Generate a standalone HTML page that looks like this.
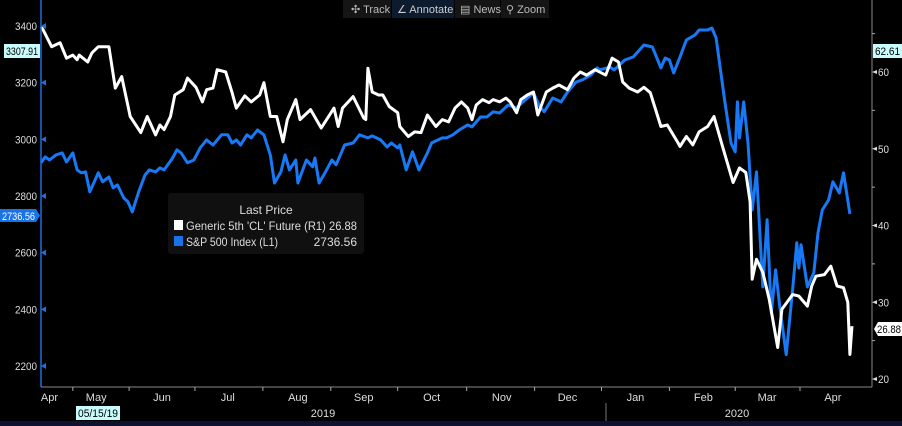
<!DOCTYPE html>
<html><head><meta charset="utf-8"><style>
html,body{margin:0;padding:0;background:#000;width:902px;height:426px;overflow:hidden}
svg{display:block;font-family:"Liberation Sans",sans-serif}
</style></head><body>
<svg id="chart" width="902" height="426" viewBox="0 0 902 426">
<rect x="0" y="0" width="902" height="426" fill="#000"/>
<g id="grid"></g>
<g id="series"></g>
<g id="axes"></g>
</svg>
<script>
// ---- data ----
const oilDays=[0,1,5,9,12,15,17,18,22,24,27,32,35,38,42,47,50,54,56,58,61,63,67,69,73,76,78,81,83,87,90,92,96,99,103,105,108,111,114,116,120,122,127,132,138,140,142,147,152,153,154,156,159,161,164,168,169,173,176,179,182,186,189,192,195,198,201,203,205,208,211,213,216,219,221,224,226,229,232,234,238,241,244,248,251,254,257,261,266,269,272,274,277,281,284,287,292,295,300,301,304,307,310,314,317,321,326,329,332,334,335,337,340,343,347,349,354,357,361,363,365,369,372,375,378,380,381,382];
const oilValues=[65.9,65.5,63.3,63.8,61.8,62.2,61.6,62.2,61.3,62.5,63.3,63.3,57.9,59.4,54.2,52.1,54.2,51.8,53.1,52.5,54.2,57.0,57.7,59.2,58.0,56.1,57.7,57.9,60.3,60.0,57.3,55.3,56.9,56.1,57.0,58.6,54.2,54.2,50.9,53.8,56.4,53.8,55.1,52.7,55.3,52.9,55.3,56.8,54.0,53.8,60.5,57.4,57.0,57.0,55.5,54.7,52.9,51.6,52.2,52.1,54.4,52.9,53.8,53.5,55.3,56.1,55.3,53.8,55.7,56.4,56.0,56.4,56.1,56.6,56.1,54.7,56.4,57.0,57.4,54.4,57.4,57.9,58.3,57.7,59.2,60.0,59.6,60.3,59.6,61.8,61.3,58.7,57.9,57.4,58.0,57.3,52.9,53.1,50.8,50.3,51.6,50.5,52.2,52.9,54.2,50.3,45.6,47.5,46.9,43.1,33.0,35.6,33.9,30.4,24.1,29.1,31.0,30.8,29.5,32.1,33.4,33.6,34.7,32.1,31.9,30.0,23.2,26.88];
const spxDays=[0,2,4,7,10,12,15,17,19,21,23,27,29,32,34,36,39,41,43,46,49,51,54,56,58,62,64,66,69,72,75,78,81,85,88,90,92,94,97,99,102,105,108,110,113,115,117,120,121,125,128,129,131,134,137,139,143,147,150,154,156,160,163,165,168,169,172,175,178,182,184,187,189,191,194,197,201,203,207,210,213,216,220,224,227,232,235,237,241,245,248,252,255,259,262,263,268,270,275,279,284,288,292,294,296,298,301,304,308,310,314,316,318,322,325,327,328,329,331,333,335,337,340,342,344,346,348,351,354,356,357,358,361,364,366,368,371,373,376,378,381];
const spxValues=[2917,2938,2927,2945,2952,2920,2952,2892,2882,2885,2815,2882,2850,2867,2829,2839,2793,2779,2744,2815,2874,2892,2885,2899,2892,2934,2963,2952,2917,2927,2970,2998,2980,3016,3016,2987,2998,2980,3016,3005,3033,3016,2945,2846,2885,2945,2892,2927,2846,2927,2903,2934,2846,2885,2927,2910,2980,2987,3016,3005,3012,2998,2973,2987,2970,2980,2892,2956,2892,2952,2987,2998,3005,3005,3016,3033,3051,3044,3079,3079,3097,3093,3121,3111,3132,3164,3114,3097,3146,3132,3167,3202,3210,3227,3252,3245,3255,3245,3280,3291,3333,3326,3252,3287,3280,3234,3291,3351,3368,3386,3386,3393,3358,3139,2987,2956,3132,3005,3132,2987,2751,2885,2479,2716,2388,2539,2409,2240,2469,2635,2546,2628,2479,2529,2670,2751,2786,2850,2811,2882,2736.56];
const leftTicks=[3400,3200,3000,2800,2600,2400,2200];
const rightTicks=[60,50,40,30,20];
const rightMinor=[65,55,45,35,25];
const monthLabels=["Apr","May","Jun","Jul","Aug","Sep","Oct","Nov","Dec","Jan","Feb","Mar","Apr"];
const monthDays=[4,26,57,88,121,152,184,217,248,280,312,342,373];

// ---- scales ----
const X0=41, X1=852, DMAX=382;
const xs=d=>X0+d*(X1-X0)/DMAX;
const yL=v=>26+(3400-v)*(366-26)/1200;
const yR=v=>72+(60-v)*(379-72)/40;
const NS="http://www.w3.org/2000/svg";
function mk(tag,attrs,parent,text){const e=document.createElementNS(NS,tag);for(const k in attrs)e.setAttribute(k,attrs[k]);if(text!==undefined)e.textContent=text;parent.appendChild(e);return e;}
const S=document.getElementById('series'), A=document.getElementById('axes');

function path(days,vals,sc){return days.map((d,i)=>(i?'L':'M')+xs(d).toFixed(1)+','+sc(vals[i]).toFixed(1)).join('');}
const pSpx=mk('path',{d:path(spxDays,spxValues,yL),fill:'none',stroke:'#1779f5','stroke-width':3,'stroke-linejoin':'round'},S);


const pOil=mk('path',{d:path(oilDays,oilValues,yR),fill:'none',stroke:'#ffffff','stroke-width':3,'stroke-linejoin':'round'},S);



const la=mk('line',{x1:41,y1:0,x2:41,y2:387,stroke:'#1e6fe0','stroke-width':1.5},A);


const ra=mk('line',{x1:872,y1:0,x2:872,y2:387,stroke:'#888','stroke-width':1},A);


const ba=mk('line',{x1:41,y1:387,x2:872,y2:387,stroke:'#888','stroke-width':1},A);



leftTicks.forEach(v=>{const y=yL(v);
 const t=mk('text',{x:37,y:y+4,'text-anchor':'end','font-size':11,fill:'#ddd',textLength:22,lengthAdjust:'spacingAndGlyphs'},A,String(v));
 
 
 const m=mk('path',{d:`M41,${y} l5,-3 v6z`,fill:'#1e6fe0'},A);
 
 
});
rightTicks.forEach(v=>{const y=yR(v);
 const t=mk('text',{x:878,y:y+4,'font-size':11,fill:'#ddd',textLength:11,lengthAdjust:'spacingAndGlyphs'},A,String(v));
 
 
 const m=mk('path',{d:`M872,${y} l5,-2 v4z`,fill:'#ddd'},A);
 
 
});
rightMinor.forEach(v=>{const y=yR(v);
 const m=mk('line',{x1:872,y1:y,x2:875,y2:y,stroke:'#aaa'},A);
 
 
});
monthLabels.forEach((m,i)=>{const x=xs(monthDays[i]);
 const t=mk('text',{x:x,y:401,'text-anchor':'middle','font-size':11,fill:'#ddd'},A,m);
 
 
 if(i<monthLabels.length-1){const tx=(x+xs(monthDays[i+1]))/2;
  const k=mk('line',{x1:tx,y1:387,x2:tx,y2:391,stroke:'#aaa'},A);
  
  }
});
</script>
<svg style="position:absolute;left:0;top:0" width="902" height="426" viewBox="0 0 902 426" font-family="Liberation Sans, sans-serif">
 <g>
  <rect x="343" y="0" width="48" height="18" fill="#151515"/>
  <text x="351" y="13" font-size="11" fill="#bbb">✣ Track</text>
  <rect x="392" y="0" width="62" height="18" fill="#0c1b2e"/>
  <text x="397" y="13" font-size="11" fill="#ccc">∠ Annotate</text>
  <rect x="455" y="0" width="45" height="18" fill="#151515"/>
  <text x="460" y="13" font-size="11" fill="#bbb">▤ News</text>
  <rect x="501" y="0" width="48" height="18" fill="#151515"/>
  <text x="506" y="13" font-size="11" fill="#bbb">⚲ Zoom</text>
 </g>
 <g>
  <rect x="4" y="44" width="36" height="14" fill="#c8fbfb"/>
  <text x="6" y="55" font-size="11" fill="#000" textLength="32" lengthAdjust="spacingAndGlyphs">3307.91</text>
 </g>
 <g>
  <path d="M0,209 H36 L40,215.5 L36,222 H0Z" fill="#1a72e8"/>
  <text x="2" y="220" font-size="11" fill="#fff" textLength="33" lengthAdjust="spacingAndGlyphs">2736.56</text>
 </g>
 <g>
  <rect x="873" y="44" width="29" height="14" fill="#c8fbfb"/>
  <text x="875" y="55" font-size="11" fill="#000" textLength="25" lengthAdjust="spacingAndGlyphs">62.61</text>
 </g>
 <g>
  <path d="M878,322 H902 V336 H878 L874,329Z" fill="#fff"/>
  <text x="877" y="333" font-size="11" fill="#000" textLength="24" lengthAdjust="spacingAndGlyphs">26.88</text>
 </g>
 <g>
  <rect x="168" y="193" width="196" height="61" rx="3" fill="#101010"/>
  <text x="266" y="214" font-size="12" fill="#ddd" text-anchor="middle">Last Price</text>
  <rect x="174" y="220" width="9" height="10" fill="#fff"/>
  <text x="186" y="230" font-size="12" fill="#ddd" textLength="171" lengthAdjust="spacingAndGlyphs">Generic 5th 'CL' Future  (R1) 26.88</text>
  <rect x="174" y="236" width="9" height="10" fill="#1a72e8"/>
  <text x="186" y="246" font-size="12" fill="#ddd" textLength="92" lengthAdjust="spacingAndGlyphs">S&amp;P 500 Index  (L1)</text>
  <text x="357" y="246" font-size="12" fill="#ddd" text-anchor="end">2736.56</text>
 </g>
 <g>
  <rect x="76" y="406" width="44" height="14" fill="#c8fbfb"/>
  <text x="78" y="417" font-size="11" fill="#000" textLength="40" lengthAdjust="spacingAndGlyphs">05/15/19</text>
  <text x="323" y="417" font-size="11" fill="#ddd" text-anchor="middle">2019</text>
  <line x1="606" y1="403" x2="606" y2="421" stroke="#777"/>
  <text x="737" y="417" font-size="11" fill="#ddd" text-anchor="middle">2020</text>
 </g>
 <rect x="0" y="421" width="902" height="5" fill="#0d1232"/>
</svg>
</body></html>
